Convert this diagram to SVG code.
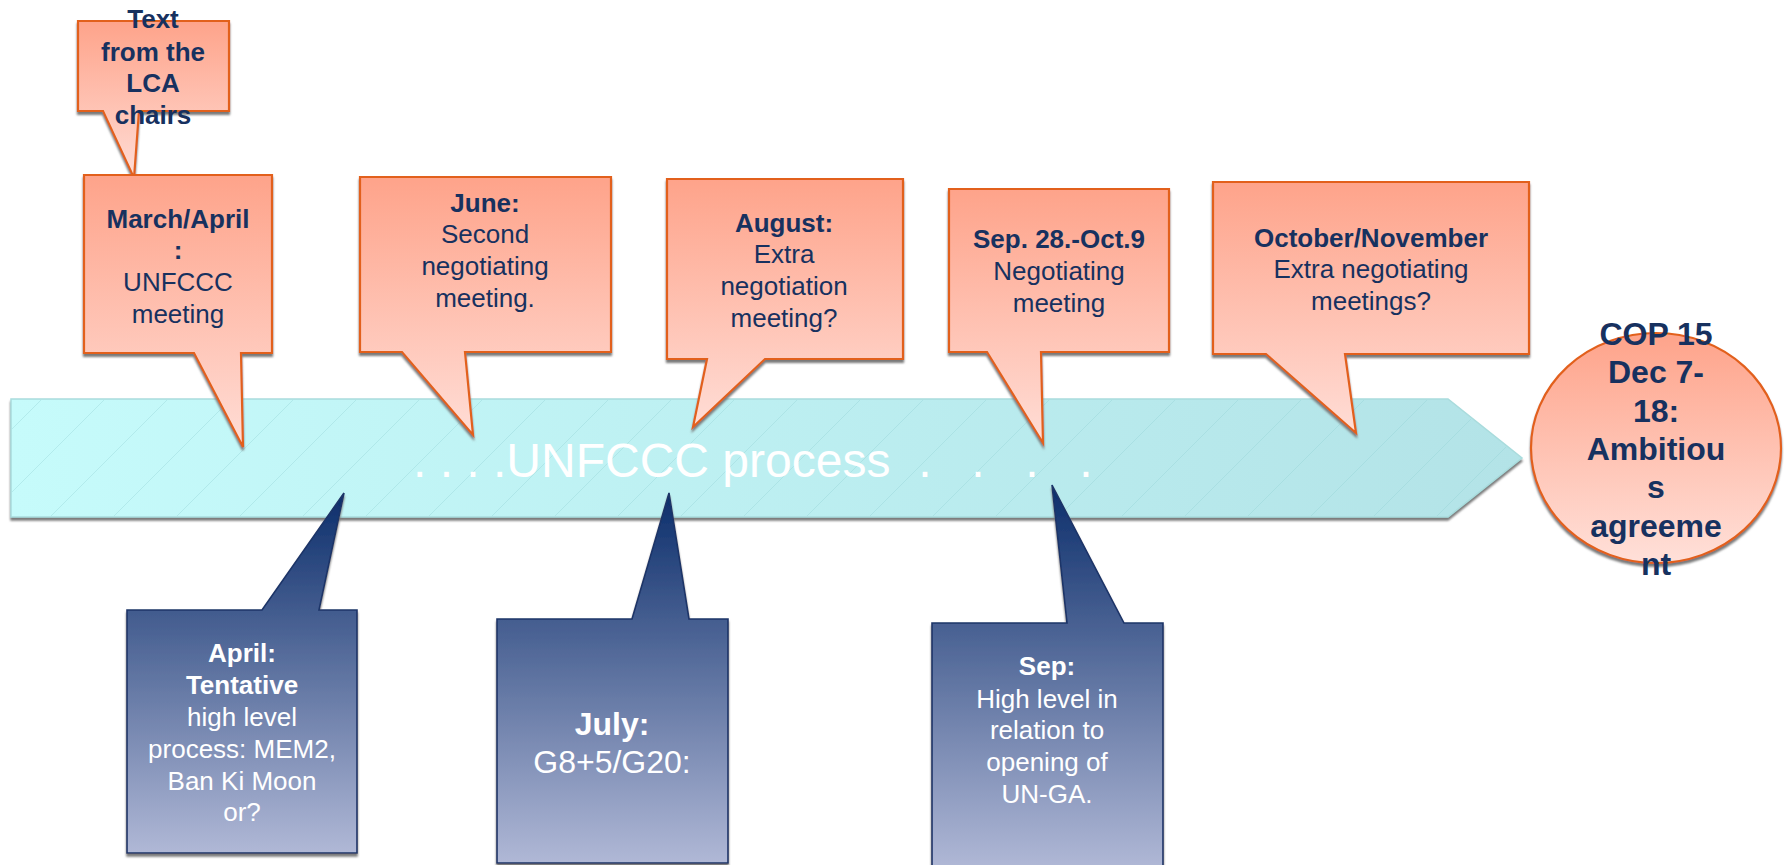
<svg xmlns="http://www.w3.org/2000/svg" width="1784" height="865" viewBox="0 0 1784 865">
<style>
text{font-family:"Liberation Sans",Arial,sans-serif;text-anchor:middle}
.o{fill:url(#og);stroke:#E2601C;stroke-width:2.2;stroke-linejoin:miter;filter:url(#sh)}
.b{fill:url(#bg);stroke:#1C3468;stroke-width:1.6;filter:url(#sh)}
.ot{fill:#17315F;font-size:26px}
.bt{fill:#FFFFFF;font-size:26px}
.bd{font-weight:bold}
.big{font-size:32px}
</style>
<defs>
<linearGradient id="og" x1="0" y1="0" x2="0" y2="1">
<stop offset="0" stop-color="#FEA38A"/>
<stop offset="1" stop-color="#FFDDD6"/>
</linearGradient>
<linearGradient id="bg" x1="0" y1="0" x2="0" y2="1">
<stop offset="0" stop-color="#0C2E6B"/>
<stop offset="1" stop-color="#B0B8D6"/>
</linearGradient>
<linearGradient id="cg" x1="0" y1="0" x2="0" y2="1">
<stop offset="0" stop-color="#FEA38A"/>
<stop offset="1" stop-color="#FFE0D9"/>
</linearGradient>
<linearGradient id="tg" x1="0" y1="0" x2="1" y2="0">
<stop offset="0" stop-color="#C6FBFB"/>
<stop offset="1" stop-color="#B3E3E7"/>
</linearGradient>
<pattern id="hatch" patternUnits="userSpaceOnUse" width="63" height="63">
<path d="M0,63 L63,0" stroke="#8FCFD3" stroke-width="0.8" stroke-opacity="0.45"/>
</pattern>
<filter id="sh" x="-5%" y="-5%" width="110%" height="115%">
<feGaussianBlur in="SourceAlpha" stdDeviation="0.8"/>
<feOffset dx="-0.5" dy="3" result="b"/>
<feFlood flood-color="#7A7A7A"/>
<feComposite in2="b" operator="in"/>
<feMerge><feMergeNode/><feMergeNode in="SourceGraphic"/></feMerge>
</filter>
</defs>
<rect width="1784" height="865" fill="#FFFFFF"/>

<g id="timeline">
<path d="M11,399 H1448 L1522,458 L1448,517 H11 Z" fill="url(#tg)" stroke="#A9DCDD" stroke-width="1.5" filter="url(#sh)"/>
<path d="M12,400 H1447 L1520,458 L1447,516 H12 Z" fill="url(#hatch)"/>
<text x="413" y="477" fill="#FFFFFF" font-size="48" style="text-anchor:start">. . . .UNFCCC process</text>
<text x="925" y="477" fill="#FFFFFF" font-size="48">.</text>
<text x="978" y="477" fill="#FFFFFF" font-size="48">.</text>
<text x="1032" y="477" fill="#FFFFFF" font-size="48">.</text>
<text x="1086" y="477" fill="#FFFFFF" font-size="48">.</text>
</g>

<g id="connectors"></g>

<g id="lca-chairs">
<path class="o" d="M78,21 H229 V111 H139 L134,178 L103,111 H78 Z"/>
<text class="ot bd" x="153"><tspan x="153" y="28">Text</tspan><tspan x="153" y="61">from the</tspan><tspan x="153" y="92">LCA</tspan><tspan x="153" y="124">chairs</tspan></text>
</g>

<g id="march-april">
<path class="o" d="M84,175 H272 V353 H241 L243,447 L194,353 H84 Z"/>
<text class="ot" x="178"><tspan class="bd" x="178" y="228">March/April</tspan><tspan class="bd" x="178" y="259">:</tspan><tspan x="178" y="291">UNFCCC</tspan><tspan x="178" y="323">meeting</tspan></text>
</g>

<g id="june">
<path class="o" d="M360,177 H611 V352 H465 L473,435 L402,352 H360 Z"/>
<text class="ot" x="485"><tspan class="bd" x="485" y="212">June:</tspan><tspan x="485" y="243">Second</tspan><tspan x="485" y="275">negotiating</tspan><tspan x="485" y="307">meeting.</tspan></text>
</g>

<g id="august">
<path class="o" d="M667,179 H903 V359 H765 L693,427 L707,359 H667 Z"/>
<text class="ot" x="784"><tspan class="bd" x="784" y="232">August:</tspan><tspan x="784" y="263">Extra</tspan><tspan x="784" y="295">negotiation</tspan><tspan x="784" y="327">meeting?</tspan></text>
</g>

<g id="sep-oct">
<path class="o" d="M949,189 H1169 V352 H1041 L1043,443 L987,352 H949 Z"/>
<text class="ot" x="1059"><tspan class="bd" x="1059" y="248">Sep. 28.-Oct.9</tspan><tspan x="1059" y="280">Negotiating</tspan><tspan x="1059" y="312">meeting</tspan></text>
</g>

<g id="oct-nov">
<path class="o" d="M1213,182 H1529 V354 H1345 L1356,433 L1266,354 H1213 Z"/>
<text class="ot" x="1371"><tspan class="bd" x="1371" y="247">October/November</tspan><tspan x="1371" y="278">Extra negotiating</tspan><tspan x="1371" y="310">meetings?</tspan></text>
</g>

<g id="cop15">
<ellipse cx="1656" cy="448" rx="125" ry="115" fill="url(#cg)" stroke="#E2601C" stroke-width="2.2" filter="url(#sh)"/>
<text class="ot bd big" x="1656"><tspan x="1656" y="345">COP 15</tspan><tspan x="1656" y="383">Dec 7-</tspan><tspan x="1656" y="422">18:</tspan><tspan x="1656" y="460">Ambitiou</tspan><tspan x="1656" y="498">s</tspan><tspan x="1656" y="537">agreeme</tspan><tspan x="1656" y="575">nt</tspan></text>
</g>

<g id="april">
<path class="b" d="M127,610 H262 L344,493 L319,610 H357 V853 H127 Z"/>
<text class="bt" x="242"><tspan class="bd" x="242" y="662">April:</tspan><tspan class="bd" x="242" y="694">Tentative</tspan><tspan x="242" y="726">high level</tspan><tspan x="242" y="758">process: MEM2,</tspan><tspan x="242" y="790">Ban Ki Moon</tspan><tspan x="242" y="821">or?</tspan></text>
</g>

<g id="july">
<path class="b" d="M497,619 H632 L669,493 L689,619 H728 V863 H497 Z"/>
<text class="bt big" x="612"><tspan class="bd" x="612" y="735">July:</tspan><tspan x="612" y="773">G8+5/G20:</tspan></text>
</g>

<g id="sep">
<path class="b" d="M932,623 H1067 L1052,485 L1124,623 H1163 V868 H932 Z"/>
<text class="bt" x="1047"><tspan class="bd" x="1047" y="675">Sep:</tspan><tspan x="1047" y="708">High level in</tspan><tspan x="1047" y="739">relation to</tspan><tspan x="1047" y="771">opening of</tspan><tspan x="1047" y="803">UN-GA.</tspan></text>
</g>
</svg>
